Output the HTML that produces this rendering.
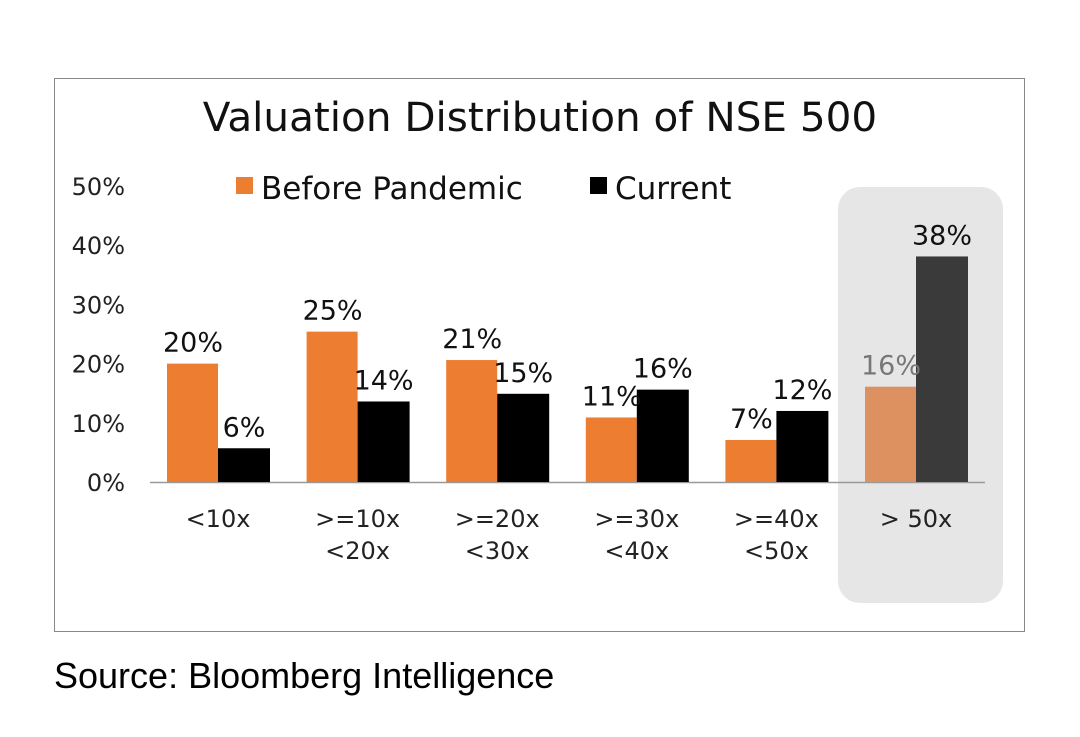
<!DOCTYPE html>
<html><head><meta charset="utf-8"><style>
body{margin:0;background:#fff;width:1080px;height:732px;overflow:hidden;}
svg text{font-family:"DejaVu Sans","Liberation Sans",sans-serif;}
</style></head><body>
<svg id="chart" width="1080" height="732">
<rect x="54.5" y="78.5" width="970" height="553" fill="#fff" stroke="#888" stroke-width="1"/>
<rect x="838" y="187" width="165" height="416" rx="22" fill="#e6e6e6"/>
<text x="540" y="131" font-size="40.5" text-anchor="middle" fill="#111">Valuation Distribution of NSE 500</text>
<rect x="236" y="177" width="17" height="17" fill="#ed7d31"/>
<text x="261" y="199" font-size="31" fill="#111">Before Pandemic</text>
<rect x="590" y="177" width="17" height="17" fill="#000"/>
<text x="615" y="199" font-size="31" fill="#111">Current</text>
<g id="axis"></g>
<g id="bars"></g>
<text x="54" y="688" font-size="36" fill="#000" style="font-family:'Liberation Sans',sans-serif">Source: Bloomberg Intelligence</text>
</svg>
<script>
const categories=[["<10x"],[">=10x","<20x"],[">=20x","<30x"],[">=30x","<40x"],[">=40x","<50x"],["> 50x"]];
const beforeValues=[20,25.4,20.6,10.9,7.1,16.1];
const currentValues=[5.7,13.6,14.9,15.6,12,38.1];
const beforeLabels=["20%","25%","21%","11%","7%","16%"];
const currentLabels=["6%","14%","15%","16%","12%","38%"];
const yTicks=[0,10,20,30,40,50];
const NS="http://www.w3.org/2000/svg";
const y0=482,pxPer=5.92,cx0=218,step=139.6;
const y=v=>y0-v*pxPer;
const x=i=>cx0+i*step;
function mk(tag,attrs,parent,txt){const e=document.createElementNS(NS,tag);for(const k in attrs)e.setAttribute(k,attrs[k]);if(txt!==undefined)e.textContent=txt;parent.appendChild(e);return e;}
const ax=document.getElementById('axis'),bg=document.getElementById('bars');
yTicks.forEach(t=>{const e=mk('text',{x:125,y:y(t)+9,'font-size':24,'text-anchor':'end',fill:'#222'},ax,t+'%');

});
const base=mk('line',{x1:150,x2:985,y1:y0+0.5,y2:y0+0.5,stroke:'#999','stroke-width':1.5},ax);


categories.forEach((c,i)=>{
 const hi=i===5;
 const b=mk('rect',{x:x(i)-51,y:y(beforeValues[i]),width:51,height:beforeValues[i]*pxPer,fill:hi?'#de9160':'#ed7d31'},bg);
 
 
 const k=mk('rect',{x:x(i),y:y(currentValues[i]),width:52,height:currentValues[i]*pxPer,fill:hi?'#3a3a3a':'#000'},bg);
 
 
 const l1=mk('text',{x:x(i)-25,y:y(beforeValues[i])-12,'font-size':27,'text-anchor':'middle',fill:hi?'#777':'#111'},bg,beforeLabels[i]);
 
 
 const l2=mk('text',{x:x(i)+26,y:y(currentValues[i])-12,'font-size':27,'text-anchor':'middle',fill:'#111'},bg,currentLabels[i]);
 
 
 c.forEach((s,j)=>{const t=mk('text',{x:x(i),y:527+j*32,'font-size':24,'text-anchor':'middle',fill:'#222'},ax,s);
 
 });
});
</script>
</body></html>
